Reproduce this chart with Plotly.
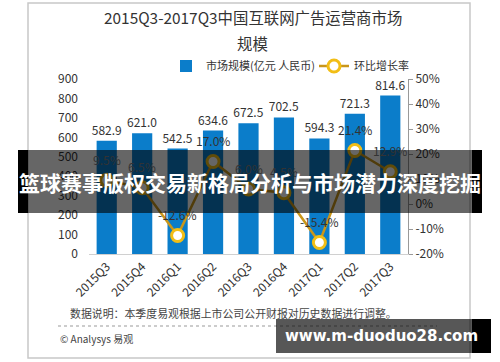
import plotly.graph_objects as go

categories = ["2015Q3", "2015Q4", "2016Q1", "2016Q2", "2016Q3",
              "2016Q4", "2017Q1", "2017Q2", "2017Q3"]
market_size = [582.9, 621.0, 542.5, 634.6, 672.5, 702.5, 594.3, 721.3, 814.6]
growth_rate = [9.5, 6.5, -12.6, 17.0, 6.0, 4.5, -15.4, 21.4, 12.9]
left_ticks = [0, 100, 200, 300, 400, 500, 600, 700, 800, 900]
right_ticks = [-20, -10, 0, 10, 20, 30, 40, 50]

W, H = 500, 362
PL, PR, PT, PB = 89, 408, 79, 254  # plot area in pixels

def px(x):
    return (x - PL) / (PR - PL)

def py(y):
    return (PB - y) / (PB - PT)

FONT = "Noto Sans CJK SC"
TXT = "#333333"

fig = go.Figure()
fig.add_trace(go.Bar(
    x=categories, y=market_size, name="市场规模(亿元 人民币)",
    marker=dict(color="#0B7DCA", line=dict(width=0)), width=0.57,
    text=[f"{v:.1f}" for v in market_size], textposition="outside",
    constraintext="none",
    textfont=dict(size=12, color=TXT, family=FONT), cliponaxis=False,
))
fig.add_trace(go.Scatter(
    x=categories, y=growth_rate, yaxis="y2", name="环比增长率",
    mode="lines+markers",
    line=dict(color="#C9961A", width=2.5),
    marker=dict(size=12, color="white", line=dict(color="#F2BE16", width=3)),
    cliponaxis=False,
))

shapes = [
    # frame
    dict(type="rect", xref="paper", yref="paper", x0=px(28), x1=px(470),
         y0=py(358), y1=py(3), line=dict(color="#c8c8c8", width=1.5),
         layer="below"),
    # dotted separator
    dict(type="line", xref="paper", yref="paper", x0=px(58), x1=px(437),
         y0=py(326), y1=py(326), line=dict(color="#999999", width=1, dash="dot")),
    # overlay banner
    dict(type="rect", xref="paper", yref="paper", x0=px(18), x1=px(28),
         y0=py(213), y1=py(150), fillcolor="black", line=dict(width=0)),
    dict(type="rect", xref="paper", yref="paper", x0=px(28), x1=px(472),
         y0=py(213), y1=py(150), fillcolor="rgba(0,0,0,0.6)", line=dict(width=0)),
    dict(type="rect", xref="paper", yref="paper", x0=px(472), x1=px(482),
         y0=py(213), y1=py(150), fillcolor="black", line=dict(width=0)),
    # url banner
    dict(type="rect", xref="paper", yref="paper", x0=px(276), x1=px(472),
         y0=py(353), y1=py(319), fillcolor="rgba(0,0,0,0.66)", line=dict(width=0)),
    dict(type="rect", xref="paper", yref="paper", x0=px(472), x1=px(491),
         y0=py(353), y1=py(319), fillcolor="black", line=dict(width=0)),
]

annotations = []
# growth-rate labels placed above each point via the data axes
for c, v in zip(categories, growth_rate):
    annotations.append(dict(text=f"{v:.1f}%", x=c, y=v, xref="x", yref="y2",
                            yshift=21, showarrow=False, xanchor="center",
                            yanchor="middle",
                            font=dict(size=12, color=TXT, family=FONT)))

paper_notes = [
    dict(text="2015Q3-2017Q3中国互联网广告运营商市场", x=px(253), y=py(17),
         font=dict(size=15.4, color=TXT, family=FONT)),
    dict(text="规模", x=px(252), y=py(43),
         font=dict(size=15.4, color=TXT, family=FONT)),
    dict(text="数据说明：本季度易观根据上市公司公开财报对历史数据进行调整。",
         x=px(233), y=py(313), font=dict(size=10.9, color="#444444", family=FONT)),
    dict(text="© Analysys 易观", x=px(58), y=py(338), xanchor="left",
         font=dict(size=10, color="#444444", family=FONT)),
    dict(text="<b>篮球赛事版权交易新格局分析与市场潜力深度挖掘</b>", x=px(250), y=py(182),
         font=dict(size=21, color="white", family=FONT)),
    dict(text="<b>www.m-duoduo28.com</b>", x=px(381), y=py(336),
         font=dict(size=15, color="white", family="DejaVu Sans")),
]
for a in paper_notes:
    a.update(xref="paper", yref="paper", showarrow=False,
             xanchor=a.get("xanchor", "center"), yanchor="middle")
annotations += paper_notes

fig.update_layout(
    width=W, height=H,
    margin=dict(l=PL, r=W - PR, t=PT, b=H - PB, pad=0, autoexpand=False),
    paper_bgcolor="white", plot_bgcolor="white",
    font=dict(family=FONT, color=TXT),
    showlegend=True,
    legend=dict(orientation="h", x=px(166), y=py(66), xanchor="left",
                yanchor="middle", font=dict(size=11, color=TXT, family=FONT),
                itemwidth=30, entrywidth=103, bgcolor="rgba(0,0,0,0)",
                tracegroupgap=0),
    bargap=0.43,
    xaxis=dict(type="category", tickangle=-45, showgrid=False, zeroline=False,
               showline=True, linecolor="#d0d0d0", linewidth=1, ticks="",
               tickfont=dict(size=12, color=TXT, family=FONT),
               range=[-0.5, 8.5], automargin=False),
    yaxis=dict(range=[0, 900], tickvals=left_ticks, showgrid=False,
               zeroline=False, showline=False, ticks="",
               tickfont=dict(size=12, color=TXT, family=FONT),
               ticklabelstandoff=10, automargin=False),
    yaxis2=dict(range=[-20, 50], tickvals=right_ticks,
                ticktext=[f"{t}%" for t in right_ticks],
                overlaying="y", side="right", showgrid=False, zeroline=False,
                showline=True, linecolor="#999999", linewidth=1,
                ticks="outside", ticklen=4, tickcolor="#999999",
                tickfont=dict(size=12, color=TXT, family=FONT),
                automargin=False),
    shapes=shapes, annotations=annotations,
)

fig.write_html("out.html", config={"displayModeBar": False},
               post_script="document.body.style.margin='0';document.body.style.overflow='hidden';")
